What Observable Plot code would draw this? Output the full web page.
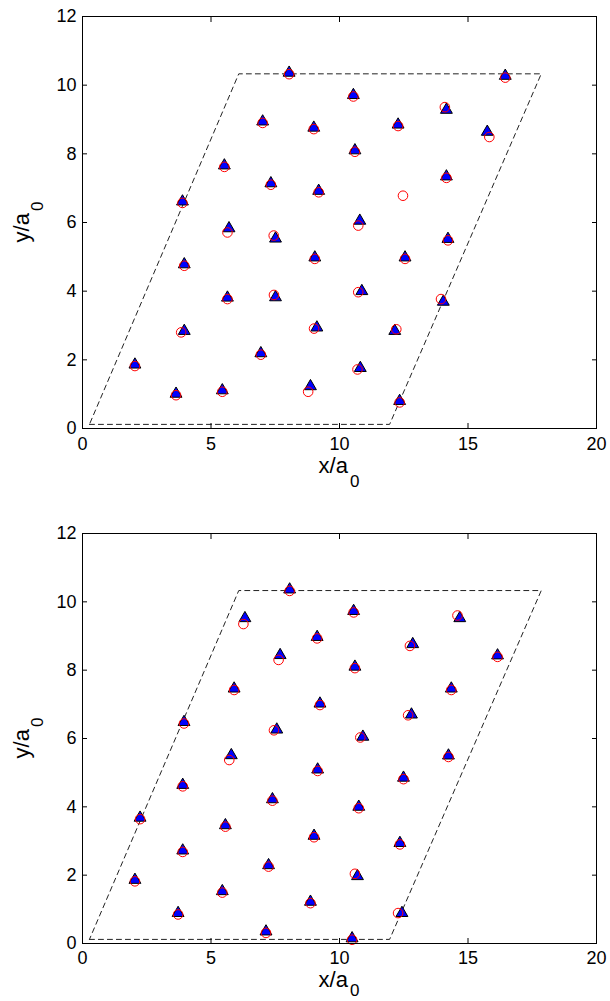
<!DOCTYPE html>
<html>
<head>
<meta charset="utf-8">
<script src="https://cdn.jsdelivr.net/npm/d3@7"></script>
<script src="https://cdn.jsdelivr.net/npm/@observablehq/plot@0.6"></script>
<style>
html, body { margin: 0; padding: 0; background: #fff; }
#chart svg { display: block; }
</style>
</head>
<body>
<div id="chart"></div>
<script>
// Axis ticks
const xTicks = [0, 5, 10, 15, 20];
const yTicks = [0, 2, 4, 6, 8, 10, 12];

// Dashed simulation cell (parallelogram), same in both panels
const cellX = [0.27, 11.95, 17.85, 6.08, 0.27];
const cellY = [0.12, 0.12, 10.33, 10.33, 0.12];

// Top panel: red open circles
const topCircleX = [8.04, 16.45, 10.54, 14.10, 7.01, 9.00, 12.28, 15.83, 10.60, 5.52, 14.16, 7.33, 9.19, 12.47, 3.89, 5.64, 7.44, 10.73, 14.22, 3.96, 9.04, 12.55, 5.64, 7.45, 10.73, 13.95, 3.84, 9.01, 12.21, 6.94, 2.04, 10.70, 3.64, 5.44, 8.78, 12.34];
const topCircleY = [10.32, 10.22, 9.67, 9.36, 8.90, 8.72, 8.81, 8.49, 8.06, 7.62, 7.30, 7.10, 6.88, 6.78, 6.57, 5.71, 5.62, 5.91, 5.48, 4.74, 4.94, 4.94, 3.77, 3.89, 3.97, 3.77, 2.80, 2.91, 2.89, 2.15, 1.82, 1.72, 0.97, 1.07, 1.07, 0.76];
// Top panel: blue filled triangles
const topTriX = [8.04, 16.45, 10.54, 14.16, 7.01, 9.00, 12.28, 15.75, 10.60, 5.52, 14.16, 7.33, 9.19, 3.89, 5.70, 7.51, 10.79, 14.22, 3.96, 9.04, 12.55, 5.64, 7.51, 10.87, 14.04, 3.96, 9.12, 12.15, 6.94, 2.04, 10.81, 3.64, 5.44, 8.87, 12.34];
const topTriY = [10.36, 10.27, 9.71, 9.28, 8.94, 8.76, 8.85, 8.64, 8.10, 7.66, 7.34, 7.14, 6.92, 6.61, 5.83, 5.53, 6.05, 5.52, 4.78, 4.98, 4.98, 3.81, 3.82, 4.00, 3.69, 2.84, 2.94, 2.84, 2.19, 1.86, 1.76, 1.01, 1.11, 1.23, 0.80];

// Bottom panel: red open circles
const botCircleX = [8.06, 6.26, 10.55, 14.59, 9.13, 12.74, 7.63, 16.15, 10.60, 5.90, 14.35, 9.24, 12.67, 3.95, 7.45, 10.81, 5.71, 14.24, 9.15, 12.49, 3.90, 7.39, 10.75, 2.24, 5.56, 9.01, 12.35, 3.90, 7.24, 10.60, 2.04, 5.44, 8.87, 3.72, 12.28, 7.14, 10.49];
const botCircleY = [10.32, 9.35, 9.69, 9.60, 8.93, 8.71, 8.30, 8.39, 8.06, 7.42, 7.42, 6.98, 6.68, 6.44, 6.24, 6.03, 5.37, 5.46, 5.05, 4.81, 4.60, 4.18, 3.96, 3.64, 3.42, 3.11, 2.90, 2.68, 2.25, 2.04, 1.82, 1.49, 1.18, 0.85, 0.89, 0.31, 0.11];
// Bottom panel: blue filled triangles
const botTriX = [8.06, 6.32, 10.55, 14.68, 9.13, 12.85, 7.69, 16.15, 10.60, 5.90, 14.35, 9.24, 12.80, 3.95, 7.56, 10.91, 5.79, 14.24, 9.15, 12.49, 3.90, 7.39, 10.75, 2.24, 5.56, 9.01, 12.35, 3.90, 7.24, 10.70, 2.04, 5.44, 8.87, 3.72, 12.43, 7.14, 10.49];
const botTriY = [10.36, 9.52, 9.73, 9.52, 8.97, 8.76, 8.44, 8.43, 8.10, 7.46, 7.46, 7.02, 6.70, 6.48, 6.26, 6.05, 5.51, 5.50, 5.09, 4.85, 4.64, 4.22, 4.00, 3.68, 3.46, 3.15, 2.94, 2.72, 2.29, 1.97, 1.86, 1.53, 1.22, 0.89, 0.89, 0.35, 0.15];

const zip = (xs, ys) => xs.map((x, i) => ({x, y: ys[i]}));

function panel(cx, cy, tx, ty, height, marginTop, marginBottom, tickPad, labelOff, subOff) {
  const marginLeft = 82, marginRight = 14, width = 610;
  const svg = Plot.plot({
    width, height, marginLeft, marginRight, marginTop, marginBottom,
    style: {fontFamily: "'Liberation Sans', Arial, sans-serif", fontSize: "18px", background: "#fff", color: "#000", overflow: "visible"},
    x: {domain: [0, 20]},
    y: {domain: [0, 12]},
    marks: [
      Plot.line(zip(cellX, cellY), {x: "x", y: "y", stroke: "#222", strokeWidth: 1, strokeDasharray: "5,4"}),
      Plot.dot(zip(tx, ty), {x: "x", y: "y", symbol: "triangle", r: 4.4, fill: "#0000ff", stroke: "#000", strokeWidth: 1}),
      Plot.dot(zip(cx, cy), {x: "x", y: "y", symbol: "circle", r: 4.8, fill: "none", stroke: "#ff0000", strokeWidth: 1}),
      Plot.frame({stroke: "#000", strokeWidth: 1}),
      Plot.axisX(xTicks, {anchor: "bottom", tickSize: 5, dy: -5, fill: "none", label: null}),
      Plot.axisX(xTicks, {anchor: "top", tickSize: 5, dy: 5, fill: "none", label: null}),
      Plot.axisY(yTicks, {anchor: "left", tickSize: 5, dx: 5, fill: "none", label: null}),
      Plot.axisY(yTicks, {anchor: "right", tickSize: 5, dx: -5, fill: "none", label: null}),
      Plot.axisX(xTicks, {anchor: "bottom", tickSize: 0, tickPadding: tickPad, label: null}),
      Plot.axisY(yTicks, {anchor: "left", tickSize: 0, tickPadding: 6, label: null})
    ]
  });
  const s = d3.select(svg);
  const bottom = height - marginBottom;
  const cxm = (marginLeft + width - marginRight) / 2;
  const cym = (marginTop + bottom) / 2;
  const xl = s.append("text")
    .attr("x", cxm).attr("y", bottom + labelOff)
    .attr("text-anchor", "middle").attr("font-size", 22).attr("fill", "#000")
    .text("x/a");
  xl.append("tspan").attr("dx", 2).attr("dy", subOff).attr("font-size", 17).text("0");
  const yl = s.append("text")
    .attr("transform", `translate(29,${cym}) rotate(-90)`)
    .attr("text-anchor", "middle").attr("font-size", 22).attr("fill", "#000")
    .text("y/a");
  yl.append("tspan").attr("dx", 2).attr("dy", 14).attr("font-size", 17).text("0");
  return svg;
}

const chart = document.getElementById("chart");
chart.appendChild(panel(topCircleX, topCircleY, topTriX, topTriY, 500, 16, 72, 9, 45, 14));
chart.appendChild(panel(botCircleX, botCircleY, botTriX, botTriY, 501, 33, 58, 8, 44, 9));
</script>
</body>
</html>
